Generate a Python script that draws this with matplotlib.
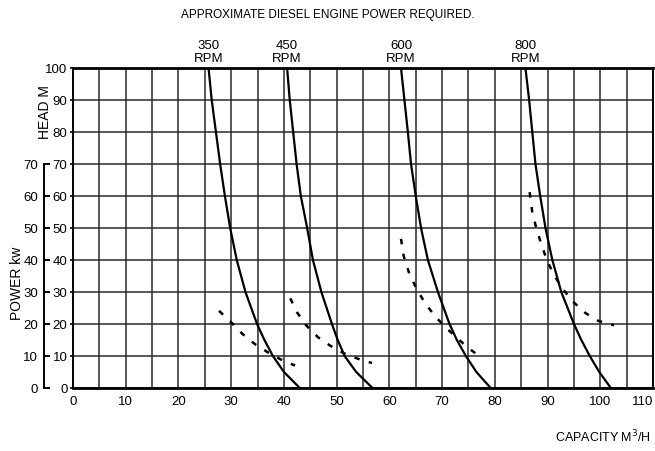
import matplotlib.pyplot as plt
import numpy as np

# head (m) at which each pump curve was read
head = [100, 90, 80, 70, 60, 50, 40, 30, 20, 15, 10, 5, 0]

rpm_labels = ['350', '450', '600', '800']

# capacity (m3/h) of the pump curves at the heads above
cap_350 = [25.7, 26.3, 27.1, 27.9, 28.8, 29.8, 31.05, 32.7, 34.9, 36.3, 37.9, 40.0, 43.0]
cap_450 = [40.6, 41.1, 41.75, 42.4, 43.2, 44.4, 45.5, 47.1, 49.1, 50.2, 51.5, 53.7, 56.8]
cap_600 = [62.2, 62.85, 63.5, 64.1, 65.0, 66.0, 67.3, 69.2, 71.4, 72.8, 74.5, 76.5, 79.2]
cap_800 = [85.8, 86.5, 87.1, 87.7, 88.6, 89.6, 90.9, 92.6, 95.0, 96.4, 98.0, 99.8, 102.0]
pump_caps = [cap_350, cap_450, cap_600, cap_800]

# power required (dashed curves)
pw_cap_350 = [27.7, 30.0, 32.2, 34.5, 37.0, 39.3, 42.1]
pw_350 = [24.1, 20.5, 16.8, 13.7, 11.1, 9.0, 7.0]
pw_cap_450 = [41.2, 42.5, 44.2, 46.5, 48.8, 51.3, 54.1, 56.7]
pw_450 = [28.0, 23.6, 19.6, 15.8, 13.2, 10.9, 9.1, 7.8]
pw_cap_600 = [62.2, 62.7, 63.7, 65.1, 66.7, 68.6, 70.7, 72.7, 74.9, 77.4]
pw_600 = [46.6, 41.3, 36.1, 31.1, 26.7, 22.5, 18.9, 15.8, 12.6, 9.5]
pw_cap_800 = [86.6, 87.1, 87.9, 88.8, 89.9, 91.3, 92.9, 95.0, 97.2, 99.6, 102.6]
pw_800 = [61.2, 54.9, 49.7, 45.0, 39.8, 35.1, 30.9, 26.7, 23.4, 21.0, 19.6]
power_caps = [pw_cap_350, pw_cap_450, pw_cap_600, pw_cap_800]
powers = [pw_350, pw_450, pw_600, pw_800]

plt.rcParams['font.family'] = ['Liberation Sans', 'DejaVu Sans']
plt.rcParams['font.size'] = 9.5

fig = plt.figure(figsize=(6.55, 4.52), dpi=100)
ax = fig.add_axes([0.1115, 0.1394, 0.8855, 0.708])

ax.set_xlim(0, 110)
ax.set_ylim(0, 100)
ax.set_xticks(np.arange(0, 111, 10))
ax.set_xticks(np.arange(5, 111, 10), minor=True)
ax.set_yticks(np.arange(0, 101, 10))
ax.grid(True, which='both', color='#2a2a2a', lw=1.1)
ax.tick_params(axis='x', which='both', length=0, pad=5)
ax.tick_params(axis='y', length=2.5, width=1.2, pad=1.5)
ax.get_xticklabels()[-1].set_horizontalalignment('right')
for side in ['top', 'bottom']:
    ax.spines[side].set_linewidth(2)
for side in ['left', 'right']:
    ax.spines[side].set_linewidth(1.4)

for caps, rpm in zip(pump_caps, rpm_labels):
    ax.plot(caps, head, color='black', lw=1.6)
    ax.text(caps[0], 101.2, rpm + '\nRPM', ha='center', va='bottom',
            fontsize=9.5, linespacing=1.1)

for caps, pw in zip(power_caps, powers):
    ax.plot(caps, pw, color='black', lw=1.8, linestyle=(0, (2.2, 3.8)))

# power axis on the far left
ax2 = fig.add_axes(ax.get_position())
ax2.patch.set_visible(False)
ax2.set_ylim(0, 100)
ax2.set_xlim(0, 110)
ax2.set_xticks([])
for side in ['top', 'bottom', 'right']:
    ax2.spines[side].set_visible(False)
ax2.spines['left'].set_position(('outward', 21))
ax2.spines['left'].set_bounds(0, 70)
ax2.spines['left'].set_linewidth(1.4)
ax2.set_yticks(np.arange(0, 71, 10))
ax2.tick_params(axis='y', direction='in', length=4, width=1.4, pad=4)

fig.text(0.5, 0.966, 'APPROXIMATE DIESEL ENGINE POWER REQUIRED.',
         ha='center', va='center', fontsize=8.5)
fig.text(0.069, 0.752, 'HEAD M', rotation=90, ha='center', va='center', fontsize=10)
fig.text(0.026, 0.374, 'POWER kw', rotation=90, ha='center', va='center', fontsize=10)
fig.text(0.993, 0.033, 'CAPACITY M$^3$/H', ha='right', va='center', fontsize=9)

fig.savefig('out.png', dpi=100)
